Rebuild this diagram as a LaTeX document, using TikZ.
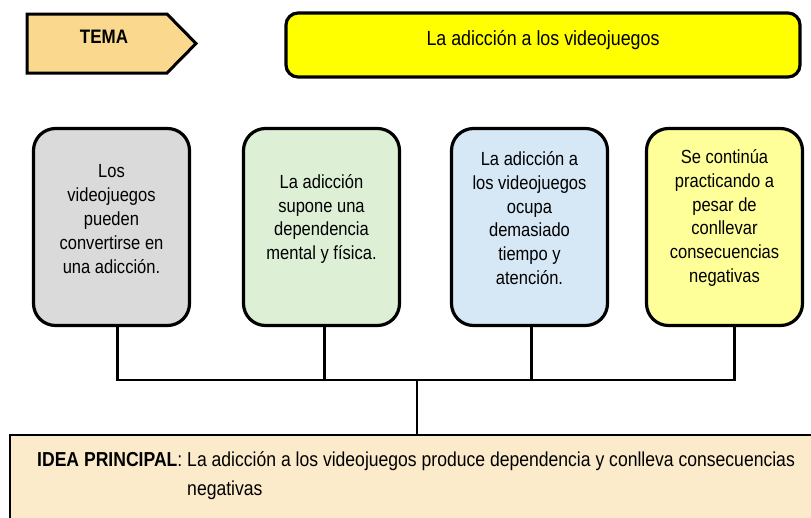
\documentclass[tikz,border=0pt]{standalone}
\usepackage{fontspec}
\setmainfont{Liberation Sans}[FakeStretch=0.87]
\definecolor{temac}{HTML}{FAD98E}
\definecolor{topy}{HTML}{FFFF00}
\definecolor{greyc}{HTML}{DADADA}
\definecolor{greenc}{HTML}{DDF0D6}
\definecolor{bluec}{HTML}{D6E7F5}
\definecolor{yellowc}{HTML}{FFFF99}
\definecolor{beigec}{HTML}{FCEBCB}
\begin{document}
\begin{tikzpicture}[x=1pt,y=-1pt,
  card/.style={draw=black, line width=3.2pt, rounded corners=22pt, minimum width=156pt, minimum height=197pt, inner sep=0pt},
  cardtext/.style={align=center, font=\fontsize{19}{23.8}\selectfont, inner sep=0pt},
  link/.style={draw=black, line width=2.6pt}
]
\clip (0,0) rectangle (811,517);
\fill[white] (0,0) rectangle (811,517);
% TEMA
\draw[fill=temac, line width=3pt, line join=miter] (27,14) -- (167,14) -- (196,43.5) -- (167,73) -- (27,73) -- cycle;
\node[font=\fontsize{19.5}{22}\selectfont\bfseries, inner sep=0pt] (tema) at (104,37) {TEMA};
% title
\node[draw=black, line width=3.2pt, fill=topy, rounded corners=12pt, minimum width=514pt, minimum height=64pt, inner sep=0pt] (titlebox) at (543,45) {};
\node[font=\fontsize{20.5}{23}\selectfont, inner sep=0pt] (title) at ([yshift=5pt]titlebox.center) {La adicción a los videojuegos};
% cards
\node[card, fill=greyc] (b1) at (111.5,227) {};
\node[card, fill=greenc] (b2) at (321.5,227) {};
\node[card, fill=bluec] (b3) at (529.5,227) {};
\node[card, fill=yellowc] (b4) at (724.5,227) {};
\node[cardtext] (t1) at ([yshift=8pt]b1.center) {Los\\videojuegos\\pueden\\convertirse en\\una adicción.};
\node[cardtext] (t2) at ([yshift=8pt]b2.center) {La adicción\\supone una\\dependencia\\mental y física.};
\node[cardtext] (t3) at ([yshift=9pt]b3.center) {La adicción a\\los videojuegos\\ocupa\\demasiado\\tiempo y\\atención.};
\node[cardtext] (t4) at ([yshift=9pt]b4.center) {Se continúa\\practicando a\\pesar de\\conllevar\\consecuencias\\negativas};
% bottom box
\node[draw=black, line width=2pt, fill=beigec, minimum width=820pt, minimum height=100pt, inner sep=0pt, anchor=north west] (idea) at (9,434) {};
\node[anchor=north west, inner sep=0pt, font=\fontsize{20.2}{29}\selectfont] (ideatext) at (37,446) {%
  \begin{tabular}{@{}l@{\ }l@{}}\textbf{IDEA PRINCIPAL}: & La adicción a los videojuegos produce dependencia y conlleva consecuencias\\ & negativas\end{tabular}};
% connectors
\coordinate (j) at (417,380);
\draw[link] ([xshift=6pt]b1.south) |- (j) -| ([xshift=10pt]b4.south);
\draw[link] ([xshift=3pt]b2.south) -- ([xshift=3pt]b2.south |- j);
\draw[link] ([xshift=2pt]b3.south) -- ([xshift=2pt]b3.south |- j);
\draw[link] (j) -- (j |- idea.north);
\end{tikzpicture}
\end{document}
